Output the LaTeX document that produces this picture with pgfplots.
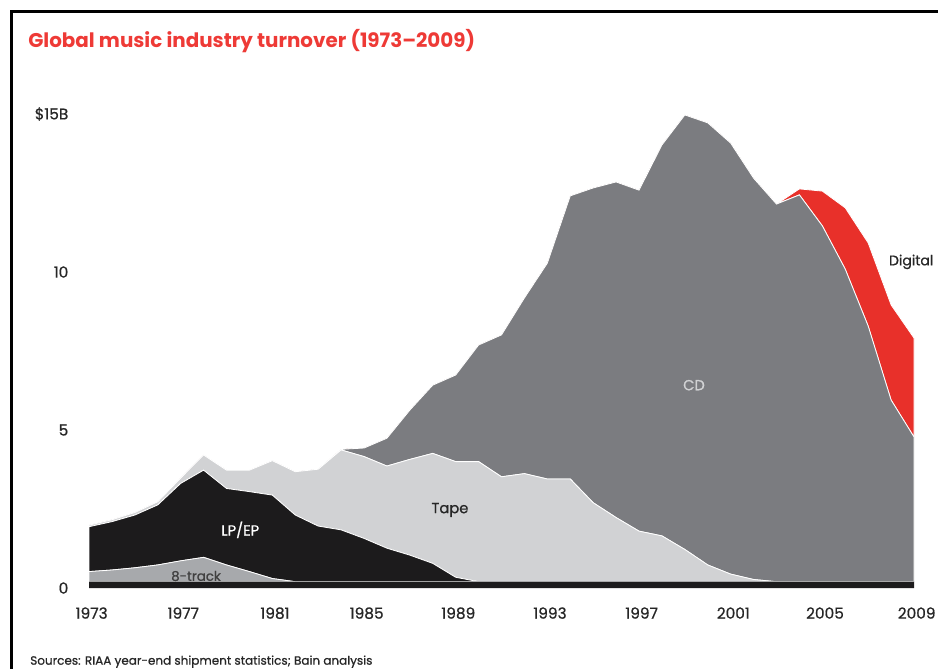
\documentclass[border=0pt]{standalone}
\usepackage{pgfplots}
\pgfplotsset{compat=1.18}
\usepackage{pgfplotstable}
\usepackage{fontspec}
\setmainfont{Poppins}
\newfontfamily\medfont[FakeBold=0.8]{Poppins}
\definecolor{cdgray}{HTML}{7B7C80}
\definecolor{tapegray}{HTML}{D1D2D4}
\definecolor{trackgray}{HTML}{A7A9AC}
\definecolor{lpblack}{HTML}{1C1B1C}
\definecolor{digred}{HTML}{E8302A}
\definecolor{titlered}{HTML}{EE3A36}
\pgfplotstableread{
year strip eight lp tape cd digital
1973 0.2 0.32 1.42 0.05 0 0
1974 0.2 0.37 1.53 0.06 0 0
1975 0.2 0.44 1.67 0.08 0 0
1976 0.2 0.53 1.90 0.10 0 0
1977 0.2 0.66 2.45 0.17 0 0
1978 0.2 0.77 2.76 0.48 0 0
1979 0.2 0.53 2.42 0.58 0 0
1980 0.2 0.32 2.53 0.68 0 0
1981 0.2 0.10 2.64 1.09 0 0
1982 0.2 0 2.11 1.37 0 0
1983 0.2 0 1.76 1.80 0 0
1984 0.2 0 1.64 2.53 0.02 0
1985 0.2 0 1.37 2.59 0.27 0
1986 0.2 0 1.06 2.60 0.88 0
1987 0.2 0 0.84 3.03 1.56 0
1988 0.2 0 0.58 3.48 2.16 0
1989 0.2 0 0.14 3.66 2.74 0
1990 0.2 0 0.0 3.80 3.69 0
1991 0.2 0 0 3.32 4.49 0
1992 0.2 0 0 3.42 5.56 0
1993 0.2 0 0 3.25 6.83 0
1994 0.2 0 0 3.25 8.96 0
1995 0.2 0 0 2.50 9.96 0
1996 0.2 0 0 2.03 10.62 0
1997 0.2 0 0 1.60 10.79 0
1998 0.2 0 0 1.45 12.37 0
1999 0.2 0 0 1.02 13.75 0
2000 0.2 0 0 0.53 13.99 0
2001 0.2 0 0 0.24 13.64 0
2002 0.2 0 0 0.07 12.70 0
2003 0.2 0 0 0.0 11.95 0
2004 0.2 0 0 0 12.24 0.19
2005 0.2 0 0 0 11.26 1.10
2006 0.2 0 0 0 9.89 1.94
2007 0.2 0 0 0 8.09 2.63
2008 0.2 0 0 0 5.75 3.01
2009 0.2 0 0 0 4.58 3.13
}\data
\begin{document}
\begin{tikzpicture}
\path[use as bounding box] (0,0) rectangle (703.5pt,-501.75pt);
% frame
\fill[black] (7.5pt,-7.5pt) rectangle (10pt,-501.75pt);
\fill[black] (7.5pt,-7.5pt) rectangle (703.5pt,-10pt);
% title
\node[anchor=base west, inner sep=0, text=titlered, font=\fontsize{14.9}{18}\selectfont\bfseries] at (21pt,-35.25pt) {Global music industry turnover (1973--2009)};
% source
\node[anchor=base west, inner sep=0, font=\fontsize{9}{10}\selectfont\medfont, text=black!85] at (22.5pt,-498.5pt) {Sources: RIAA year-end shipment statistics; Bain analysis};
\begin{axis}[
  at={(66.75pt,-441pt)}, anchor=south west,
  scale only axis, width=618.75pt, height=355.5pt,
  xmin=1973, xmax=2009, ymin=0, ymax=15,
  axis line style={draw=none},
  major tick length=0pt,
  xtick={1973,1977,1981,1985,1989,1993,1997,2001,2005,2009},
  xticklabels={1973,1977,1981,1985,1989,1993,1997,2001,2005,2009},
  ytick={0,5,10,15},
  yticklabels={0,5,10,\$15B},
  ticklabel style={font=\fontsize{11.5}{13}\selectfont\medfont, text=black!85},
  xticklabel style={yshift=-11pt, xshift=2pt},
  yticklabel style={xshift=-12pt},
  stack plots=y,
  clip=false,
]
\addplot[fill=lpblack, draw=none] table[x=year, y=strip] {\data} \closedcycle;
\addplot[fill=trackgray, draw=white, line width=0.6pt] table[x=year, y=eight] {\data} \closedcycle;
\addplot[fill=lpblack, draw=white, line width=0.6pt] table[x=year, y=lp] {\data} \closedcycle;
\addplot[fill=tapegray, draw=white, line width=0.6pt] table[x=year, y=tape] {\data} \closedcycle;
\addplot[fill=cdgray, draw=white, line width=0.6pt] table[x=year, y=cd] {\data} \closedcycle;
\addplot[fill=digred, draw=white, line width=0.6pt] table[x=year, y=digital] {\data} \closedcycle;
\coordinate (lpl) at (axis cs:1979.6,1.84);
\coordinate (trl) at (axis cs:1977.67,0.38);
\coordinate (tpl) at (axis cs:1988.75,2.47);
\coordinate (cdl) at (axis cs:1999.4,6.42);
\coordinate (dgl) at (axis cs:2007.9,10.32);
\end{axis}
\node[font=\fontsize{11}{12}\selectfont\medfont, text=white] at (lpl) {LP/EP};
\node[font=\fontsize{10}{12}\selectfont\medfont, text=black!75] at (trl) {8-track};
\node[font=\fontsize{11}{12}\selectfont\medfont, text=black!85] at (tpl) {Tape};
\node[font=\fontsize{11}{12}\selectfont\medfont, text=tapegray] at (cdl) {CD};
\node[anchor=west, inner sep=0, font=\fontsize{10.5}{12}\selectfont\medfont, text=black!85] at (dgl) {Digital};
\end{tikzpicture}
\end{document}
